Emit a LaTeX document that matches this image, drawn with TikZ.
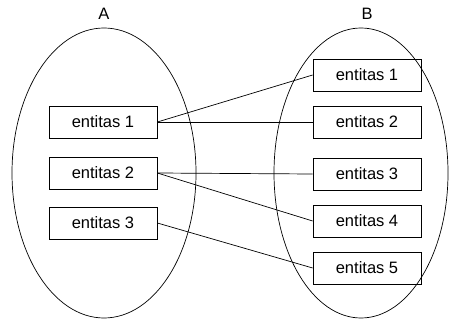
\documentclass[tikz,border=0pt]{standalone}
\usepackage{fontspec}
\setmainfont{Liberation Sans}
\usetikzlibrary{shapes.geometric}
\begin{document}
\begin{tikzpicture}[x=1pt,y=-1pt,
  ent/.style={draw,line width=0.7pt,minimum width=108pt,minimum height=32pt,inner sep=0pt,font=\fontsize{16.5}{18}\selectfont},
  lnk/.style={line width=0.7pt},
  setlbl/.style={font=\fontsize{16.5}{18}\selectfont}]
\useasboundingbox (0,0) rectangle (449,320);
\node[draw,line width=0.7pt,ellipse,minimum width=184pt,minimum height=290pt,inner sep=0pt] (EA) at (104,173) {};
\node[draw,line width=0.7pt,ellipse,minimum width=174pt,minimum height=290pt,inner sep=0pt] (EB) at (361,173) {};
\node[setlbl] (lA) at (104,14) {A};
\node[setlbl] (lB) at (367,14) {B};
\node[ent] (a1) at (103,122) {entitas 1};
\node[ent] (a2) at (103,173) {entitas 2};
\node[ent] (a3) at (103,223) {entitas 3};
\node[ent] (b1) at (367,75) {entitas 1};
\node[ent] (b2) at (367,122) {entitas 2};
\node[ent] (b3) at (367,174) {entitas 3};
\node[ent] (b4) at (367,221) {entitas 4};
\node[ent] (b5) at (367,268) {entitas 5};
\draw[lnk] (a1.east) -- (b1.west);
\draw[lnk] (a1.east) -- (b2.west);
\draw[lnk] (a2.east) -- (b3.west);
\draw[lnk] (a2.east) -- (b4.west);
\draw[lnk] (a3.east) -- (b5.west);
\end{tikzpicture}
\end{document}
